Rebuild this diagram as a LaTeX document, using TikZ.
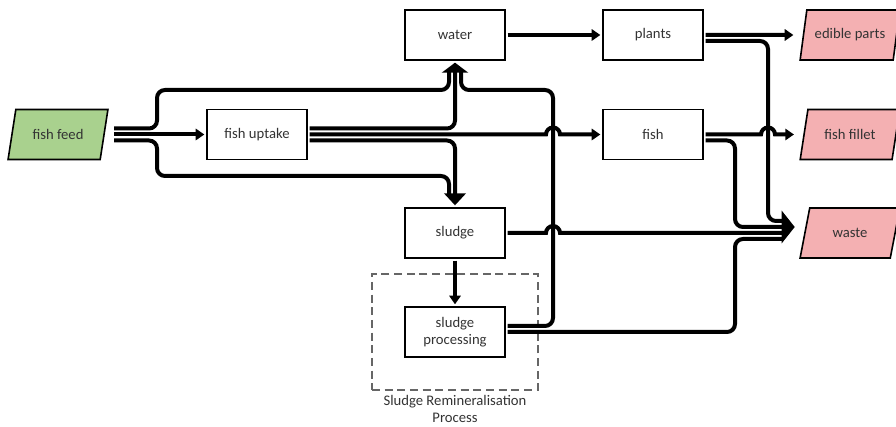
\documentclass[tikz,border=0pt]{standalone}
\usepackage{fontspec}
\setmainfont{Carlito}
\usetikzlibrary{arrows.meta, shapes.geometric, calc}

\definecolor{feedgreen}{HTML}{A9D18E}
\definecolor{outpink}{HTML}{F4B0B2}

\begin{document}
\begin{tikzpicture}[x=0.75pt, y=-0.75pt, font=\fontsize{11}{13}\selectfont,
  box/.style={draw, line width=1.2pt, minimum width=75pt, minimum height=37.5pt, align=center, outer sep=2pt, text=black!80},
  io/.style={trapezium, trapezium left angle=74, trapezium right angle=106, trapezium stretches=true,
    draw, line width=1.2pt, minimum width=75pt, minimum height=37.5pt, outer sep=7.5pt, text=black!80},
  frame/.style={draw=black!60, line width=1pt, dash pattern=on 6pt off 3.5pt, minimum width=124.5pt, minimum height=87pt},
  flow/.style={line width=3pt},
  turn/.style={flow, rounded corners=6pt},
  small/.style={-{Triangle[length=6.5pt, width=8.5pt]}},
  watertip/.style={-{Triangle[length=7.5pt, width=19.5pt]}},
  sludgetip/.style={-{Triangle[length=9pt, width=16pt]}},
  wastetip/.style={-{Triangle[length=9.75pt, width=24pt]}}]
  \useasboundingbox (0,0) rectangle (896,427);

  % Inputs and process steps
  \node[io, fill=feedgreen] (feed) at (58,134.5) {fish feed};
  \node[box] (uptake) at (257,134.5) {fish uptake};
  \node[box] (water)  at (455,35)    {water};
  \node[box] (plants) at (653,35)    {plants};
  \node[box] (fish)   at (653,134.5) {fish};
  \node[box] (sludge) at (455,233)   {sludge};
  \node[box] (sproc)  at (455,332)   {sludge\\processing};

  % Outputs (right side)
  \node[io, fill=outpink] (edible) at (850,35)    {edible parts};
  \node[io, fill=outpink] (fillet) at (850,134.5) {fish fillet};
  \node[io, fill=outpink] (waste)  at (850,233)   {waste};

  % Dashed frame round the sludge processing
  \node[frame, label={[align=center, text=black!80]below:{Sludge Remineralisation\\Process}}] (remin) at (455,332) {};

  % From fish feed
  \draw[turn, shorten >=6.5pt] ([yshift=4.5pt]feed.east) -| (157,90) -| ([xshift=-4.5pt]water.south);
  \draw[flow, small] (feed.east) -- (uptake.west);
  \draw[turn, shorten >=8pt] ([yshift=-4.5pt]feed.east) -| (157,176) -| ([xshift=-4.5pt]sludge.north);

  % From fish uptake
  \draw[turn, watertip] ([yshift=4.5pt]uptake.east) -| (water.south);
  \draw[flow, small] (uptake.east) -- (546,134.5) arc[start angle=180, end angle=0, radius=5.25pt] -- (fish.west);
  \draw[turn, sludgetip] ([yshift=-4.5pt]uptake.east) -| (sludge.north);

  % Sludge
  \draw[flow, small] (sludge.south) -- (sproc.north);
  \draw[flow, shorten >=9pt] (sludge.east) -- (546,233) arc[start angle=180, end angle=0, radius=5.25pt] -- (waste.west);
  \draw[turn, shorten >=6.5pt] ([yshift=4.5pt]sproc.east) -| (553,90) -| ([xshift=4.5pt]water.south);
  \draw[turn, shorten >=9pt] (sproc.east) -| (735,239) -- ([yshift=-4.5pt]waste.west);

  % Water, plants and fish
  \draw[flow, small] (water.east) -- (plants.west);
  \draw[flow, small] (plants.east) -- (edible.west);
  \draw[turn, shorten >=9pt] ([yshift=-4.5pt]plants.east) -| (768,221) -- ([yshift=9pt]waste.west);
  \draw[flow, small] (fish.east) -- (761,134.5) arc[start angle=180, end angle=0, radius=5.25pt] -- (fillet.west);
  \draw[turn, wastetip] ([yshift=-4.5pt]fish.east) -| (735,227) -- ([yshift=4.5pt]waste.west);
\end{tikzpicture}
\end{document}
